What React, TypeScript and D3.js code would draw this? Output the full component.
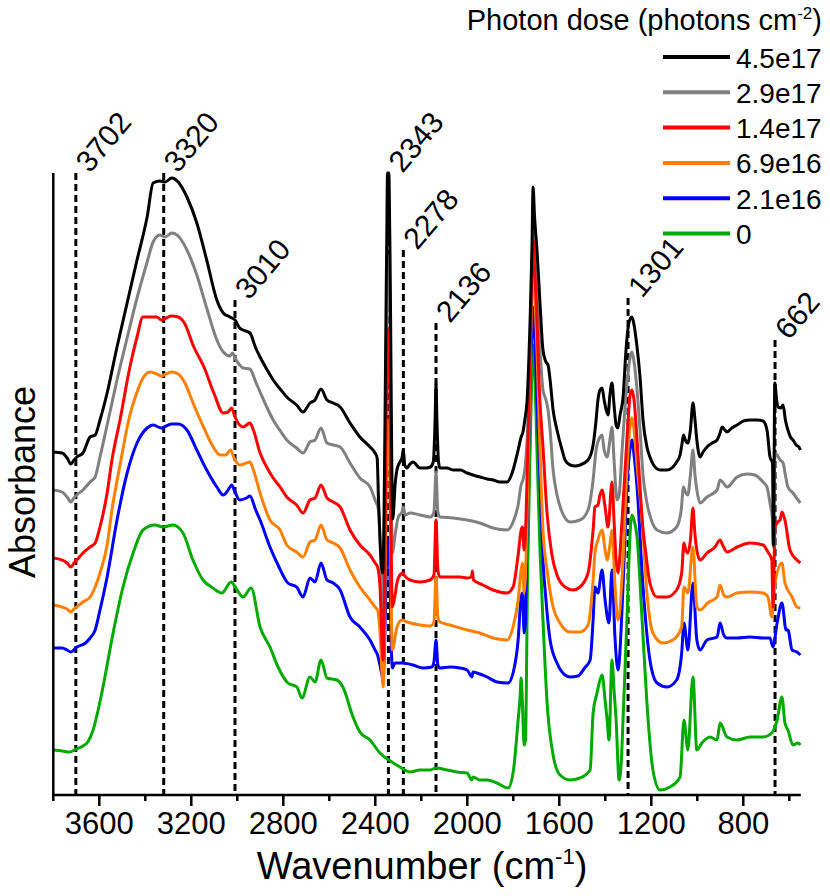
import React from 'react';
import * as d3 from 'd3';

// ---------- data ----------
const doseLabels = ['4.5e17', '2.9e17', '1.4e17', '6.9e16', '2.1e16', '0'];
const doseColors = ['#000000', '#808080', '#ff0000', '#ff8000', '#0000ff', '#00aa00'];

const xMajorTicks = [3600, 3200, 2800, 2400, 2000, 1600, 1200, 800];
const xMinorTicks = [3800, 3400, 3000, 2600, 2200, 1800, 1400, 1000, 600];

const markerWavenumbers = [3702, 3320, 3010, 2343, 2278, 2136, 1301, 662];
const markerTops = [6.22, 6.22, 4.95, 6.22, 5.45, 4.72, 4.97, 4.55];

type P = [number, number];

const black: P[] = [[3800,3.43],[3762,3.42],[3740,3.37],[3724,3.31],[3710,3.35],[3698,3.38],[3671,3.42],[3640,3.58],[3618,3.60],[3597,3.75],[3566,4.02],[3523,4.48],[3479,4.92],[3436,5.35],[3392,5.78],[3366,6.12],[3337,6.14],[3314,6.13],[3285,6.17],[3257,6.13],[3219,5.98],[3176,5.72],[3133,5.35],[3089,4.95],[3061,4.82],[3032,4.78],[3010,4.75],[2990,4.67],[2975,4.65],[2945,4.62],[2920,4.47],[2901,4.38],[2870,4.25],[2844,4.15],[2810,4.05],[2785,3.98],[2742,3.90],[2714,3.83],[2684,3.92],[2662,3.95],[2636,4.06],[2610,3.95],[2583,3.92],[2553,3.88],[2510,3.72],[2467,3.58],[2423,3.48],[2401,3.42],[2392,3.37],[2386,2.95],[2368,2.22],[2350,5.60],[2347,6.22],[2341,6.22],[2337,5.60],[2324,2.76],[2314,3.10],[2306,3.25],[2293,3.33],[2284,3.37],[2278,3.45],[2272,3.30],[2262,3.27],[2249,3.31],[2236,3.33],[2206,3.27],[2180,3.27],[2160,3.28],[2148,3.33],[2140,3.75],[2136,4.12],[2132,3.75],[2125,3.33],[2119,3.27],[2088,3.27],[2062,3.25],[2030,3.25],[2001,3.22],[1975,3.20],[1945,3.18],[1914,3.16],[1888,3.15],[1858,3.13],[1827,3.13],[1810,3.19],[1801,3.25],[1779,3.45],[1766,3.58],[1758,3.63],[1750,3.75],[1740,3.95],[1727,4.75],[1719,5.45],[1714,6.08],[1708,5.80],[1697,5.45],[1684,4.92],[1671,4.45],[1658,4.33],[1649,4.30],[1640,4.15],[1627,3.85],[1610,3.65],[1588,3.45],[1575,3.35],[1553,3.30],[1530,3.29],[1510,3.30],[1475,3.35],[1453,3.50],[1440,3.75],[1432,3.95],[1423,4.05],[1414,4.07],[1405,3.95],[1396,3.85],[1388,3.80],[1380,4.00],[1371,4.12],[1362,3.90],[1353,3.70],[1345,3.67],[1336,3.80],[1323,3.97],[1310,4.45],[1301,4.67],[1290,4.77],[1284,4.78],[1275,4.70],[1262,4.48],[1249,4.18],[1236,3.75],[1219,3.48],[1206,3.38],[1190,3.30],[1162,3.25],[1132,3.25],[1106,3.28],[1090,3.33],[1075,3.40],[1066,3.52],[1060,3.60],[1052,3.55],[1041,3.52],[1030,3.65],[1019,3.92],[1010,3.75],[1002,3.55],[988,3.38],[975,3.43],[958,3.48],[935,3.52],[914,3.55],[901,3.62],[892,3.68],[880,3.65],[871,3.63],[850,3.67],[827,3.70],[800,3.74],[771,3.75],[740,3.75],[714,3.74],[697,3.65],[684,3.38],[673,3.32],[669,2.50],[663,4.12],[655,3.95],[649,3.88],[637,3.87],[627,3.90],[617,3.75],[606,3.65],[595,3.58],[584,3.55],[570,3.50],[558,3.48],[552,3.45]];

const gray: P[] = [[3800,3.05],[3762,3.03],[3740,2.98],[3724,2.93],[3710,2.97],[3698,3.00],[3671,3.05],[3640,3.13],[3618,3.18],[3597,3.38],[3566,3.70],[3523,4.15],[3479,4.57],[3436,4.97],[3392,5.33],[3366,5.53],[3337,5.60],[3314,5.58],[3285,5.62],[3257,5.59],[3219,5.45],[3176,5.20],[3133,4.87],[3089,4.55],[3061,4.43],[3032,4.39],[3020,4.42],[3010,4.37],[2990,4.30],[2975,4.27],[2945,4.26],[2920,4.13],[2901,4.03],[2870,3.87],[2844,3.75],[2810,3.63],[2785,3.55],[2742,3.47],[2714,3.42],[2684,3.53],[2662,3.55],[2636,3.67],[2610,3.52],[2583,3.50],[2553,3.48],[2510,3.32],[2467,3.17],[2423,3.08],[2401,2.95],[2386,2.85],[2366,1.82],[2346,5.40],[2341,5.35],[2326,2.42],[2314,2.60],[2300,2.78],[2284,2.83],[2278,2.88],[2270,2.80],[2249,2.82],[2206,2.80],[2160,2.78],[2145,2.83],[2136,3.23],[2128,2.83],[2119,2.78],[2062,2.77],[2001,2.75],[1945,2.72],[1888,2.67],[1827,2.65],[1801,2.73],[1779,2.90],[1766,3.10],[1758,3.15],[1750,3.25],[1740,3.55],[1727,4.45],[1719,5.15],[1714,5.73],[1708,5.45],[1697,4.95],[1684,4.45],[1671,4.05],[1658,3.95],[1649,3.85],[1640,3.65],[1627,3.25],[1610,3.00],[1588,2.83],[1553,2.73],[1510,2.75],[1475,2.85],[1453,3.15],[1440,3.45],[1423,3.58],[1414,3.60],[1405,3.45],[1392,3.38],[1380,3.55],[1371,3.68],[1362,3.35],[1349,2.95],[1340,3.00],[1327,3.45],[1310,4.00],[1290,4.40],[1284,4.43],[1275,4.33],[1262,4.05],[1249,3.65],[1236,3.20],[1219,2.92],[1200,2.75],[1175,2.65],[1132,2.62],[1090,2.68],[1070,2.85],[1060,3.08],[1050,3.02],[1041,3.00],[1030,3.20],[1019,3.45],[1010,3.20],[1002,3.05],[988,2.92],[958,2.98],[914,3.05],[901,3.15],[890,3.13],[871,3.08],[827,3.18],[784,3.21],[750,3.20],[714,3.13],[697,3.08],[684,2.92],[673,2.75],[670,2.48],[662,3.42],[653,3.40],[640,3.35],[627,3.32],[617,3.20],[606,3.08],[584,3.02],[562,2.95],[552,2.92]];

const red: P[] = [[3800,2.37],[3762,2.35],[3740,2.32],[3724,2.28],[3710,2.32],[3698,2.35],[3671,2.42],[3640,2.48],[3618,2.52],[3597,2.68],[3566,3.02],[3545,3.35],[3510,3.75],[3467,4.28],[3436,4.58],[3410,4.78],[3380,4.78],[3350,4.78],[3330,4.75],[3310,4.77],[3285,4.79],[3257,4.78],[3230,4.72],[3189,4.48],[3145,4.28],[3102,4.02],[3061,3.82],[3040,3.83],[3025,3.87],[3010,3.78],[2990,3.70],[2975,3.68],[2945,3.72],[2930,3.65],[2901,3.42],[2870,3.27],[2844,3.17],[2814,3.08],[2785,2.98],[2742,2.90],[2714,2.82],[2684,2.95],[2662,2.97],[2636,3.10],[2610,2.97],[2583,2.93],[2553,2.88],[2510,2.65],[2467,2.50],[2423,2.40],[2401,2.32],[2390,2.28],[2380,2.10],[2366,1.35],[2346,4.65],[2341,4.60],[2326,1.88],[2314,2.00],[2306,2.12],[2293,2.20],[2280,2.22],[2275,2.20],[2249,2.15],[2206,2.13],[2162,2.15],[2145,2.20],[2136,2.75],[2128,2.25],[2119,2.18],[2075,2.18],[2032,2.18],[2001,2.17],[1982,2.18],[1978,2.24],[1973,2.15],[1932,2.10],[1888,2.05],[1827,2.02],[1801,2.08],[1779,2.40],[1766,2.65],[1760,2.68],[1753,2.45],[1745,2.75],[1735,3.65],[1725,4.65],[1719,5.25],[1714,5.55],[1708,5.30],[1697,4.75],[1688,4.12],[1671,3.48],[1653,2.81],[1632,2.40],[1610,2.20],[1575,2.08],[1540,2.05],[1510,2.08],[1475,2.22],[1453,2.65],[1445,2.88],[1432,2.90],[1423,3.00],[1414,3.05],[1401,2.88],[1388,2.68],[1371,3.13],[1362,2.75],[1353,2.35],[1345,2.22],[1327,2.75],[1306,3.56],[1290,4.03],[1284,4.05],[1275,3.95],[1262,3.55],[1249,3.08],[1236,2.65],[1227,2.48],[1206,2.12],[1175,1.98],[1132,1.98],[1090,2.05],[1068,2.22],[1058,2.52],[1050,2.45],[1041,2.42],[1030,2.55],[1019,2.87],[1010,2.60],[1002,2.45],[988,2.35],[958,2.42],[923,2.48],[901,2.55],[890,2.50],[871,2.43],[827,2.48],[771,2.52],[714,2.50],[693,2.43],[676,2.35],[671,1.88],[662,2.68],[650,2.73],[640,2.75],[632,2.83],[619,2.75],[597,2.45],[567,2.35],[552,2.32]];

const orange: P[] = [[3800,1.90],[3762,1.88],[3740,1.86],[3724,1.83],[3710,1.86],[3698,1.88],[3671,1.93],[3640,1.98],[3618,2.08],[3597,2.22],[3566,2.50],[3545,2.85],[3510,3.30],[3467,3.80],[3436,4.03],[3410,4.17],[3380,4.23],[3350,4.21],[3330,4.19],[3310,4.21],[3285,4.23],[3257,4.21],[3230,4.13],[3189,3.90],[3145,3.67],[3102,3.47],[3075,3.40],[3050,3.40],[3030,3.45],[3010,3.35],[2990,3.30],[2960,3.32],[2945,3.33],[2930,3.25],[2901,3.02],[2858,2.75],[2814,2.65],[2785,2.50],[2742,2.43],[2714,2.38],[2684,2.53],[2662,2.55],[2636,2.70],[2610,2.55],[2583,2.52],[2553,2.47],[2510,2.25],[2467,2.08],[2423,1.95],[2401,1.88],[2390,1.85],[2380,1.65],[2366,1.08],[2346,3.75],[2341,3.70],[2326,1.45],[2306,1.68],[2284,1.75],[2262,1.73],[2206,1.70],[2160,1.69],[2145,1.73],[2136,2.18],[2128,1.77],[2119,1.73],[2075,1.70],[2001,1.65],[1945,1.62],[1888,1.57],[1827,1.55],[1801,1.68],[1779,1.95],[1766,2.25],[1760,2.32],[1753,2.02],[1745,2.35],[1735,3.35],[1725,4.55],[1719,5.05],[1714,5.23],[1708,5.05],[1697,4.45],[1684,3.45],[1671,2.65],[1653,2.25],[1627,1.88],[1597,1.72],[1553,1.63],[1510,1.63],[1475,1.70],[1453,2.15],[1445,2.42],[1432,2.55],[1414,2.65],[1401,2.45],[1392,2.35],[1380,2.50],[1371,2.65],[1358,2.10],[1345,1.75],[1323,2.35],[1306,3.25],[1290,3.73],[1284,3.77],[1275,3.65],[1262,3.30],[1240,2.75],[1219,2.02],[1193,1.62],[1150,1.52],[1106,1.55],[1068,1.68],[1058,2.08],[1041,2.02],[1019,2.48],[1002,1.88],[988,1.85],[955,1.92],[914,1.98],[901,2.10],[885,2.00],[871,1.98],[827,2.02],[771,2.03],[714,2.02],[693,1.98],[676,1.78],[662,2.12],[632,2.32],[619,2.12],[588,1.98],[567,1.88],[552,1.87]];

const blue: P[] = [[3800,1.47],[3762,1.47],[3740,1.45],[3724,1.43],[3698,1.48],[3660,1.52],[3640,1.57],[3618,1.65],[3597,1.85],[3566,2.18],[3523,2.75],[3479,3.22],[3436,3.52],[3392,3.67],[3366,3.70],[3330,3.67],[3310,3.69],[3285,3.71],[3257,3.71],[3219,3.65],[3176,3.45],[3133,3.25],[3089,3.08],[3061,3.00],[3040,3.05],[3025,3.10],[3010,3.03],[2990,2.95],[2960,2.97],[2945,2.99],[2920,2.85],[2901,2.75],[2858,2.48],[2823,2.30],[2780,2.12],[2742,2.08],[2714,1.98],[2684,2.17],[2662,2.13],[2636,2.32],[2610,2.15],[2583,2.12],[2553,2.05],[2510,1.78],[2467,1.68],[2423,1.55],[2401,1.45],[2390,1.40],[2380,1.30],[2366,1.17],[2346,2.55],[2341,2.50],[2326,1.27],[2314,1.32],[2284,1.32],[2236,1.30],[2193,1.27],[2154,1.28],[2145,1.33],[2136,1.55],[2128,1.30],[2119,1.27],[2075,1.28],[2032,1.27],[2001,1.25],[1980,1.18],[1975,1.23],[1958,1.22],[1914,1.18],[1871,1.13],[1823,1.12],[1801,1.22],[1779,1.55],[1766,1.98],[1760,2.02],[1753,1.62],[1748,1.70],[1740,2.75],[1727,4.15],[1719,4.65],[1714,4.88],[1708,4.65],[1697,3.95],[1684,3.15],[1671,2.35],[1658,1.95],[1640,1.55],[1610,1.32],[1575,1.20],[1553,1.18],[1520,1.19],[1490,1.27],[1466,1.35],[1453,1.75],[1445,2.08],[1432,2.02],[1414,2.25],[1401,1.95],[1384,1.72],[1371,2.25],[1358,1.58],[1345,1.25],[1323,2.08],[1306,3.08],[1290,3.50],[1284,3.55],[1275,3.40],[1262,3.08],[1236,2.08],[1206,1.35],[1175,1.12],[1132,1.08],[1090,1.15],[1068,1.42],[1058,1.72],[1041,1.45],[1019,2.12],[1002,1.55],[988,1.45],[958,1.55],[914,1.58],[901,1.72],[885,1.60],[871,1.57],[827,1.57],[771,1.58],[714,1.57],[684,1.57],[671,1.48],[653,1.72],[632,1.92],[614,1.65],[606,1.65],[588,1.45],[567,1.43],[552,1.40]];

const green: P[] = [[3800,0.45],[3760,0.44],[3730,0.43],[3700,0.46],[3671,0.49],[3650,0.53],[3627,0.65],[3605,0.85],[3584,1.08],[3540,1.62],[3497,2.08],[3453,2.42],[3410,2.65],[3358,2.70],[3323,2.68],[3280,2.70],[3236,2.62],[3193,2.35],[3149,2.15],[3106,2.07],[3067,2.02],[3027,2.13],[3001,2.05],[2975,1.98],[2940,2.07],[2901,1.68],[2858,1.48],[2823,1.28],[2780,1.12],[2741,1.08],[2719,0.97],[2684,1.18],[2662,1.13],[2636,1.35],[2610,1.17],[2567,1.15],[2541,1.08],[2497,0.78],[2467,0.63],[2423,0.55],[2380,0.42],[2328,0.33],[2293,0.28],[2249,0.23],[2206,0.25],[2162,0.25],[2136,0.27],[2088,0.25],[2045,0.23],[2001,0.22],[1980,0.15],[1975,0.18],[1945,0.15],[1914,0.15],[1871,0.12],[1823,0.07],[1801,0.22],[1779,0.75],[1770,1.00],[1766,1.17],[1760,0.90],[1753,0.50],[1747,0.55],[1738,2.20],[1727,3.45],[1719,4.25],[1714,4.50],[1708,4.30],[1697,3.45],[1684,2.45],[1671,1.75],[1653,0.92],[1627,0.40],[1597,0.20],[1553,0.15],[1510,0.17],[1466,0.25],[1453,0.82],[1436,1.02],[1423,1.15],[1414,1.20],[1401,0.95],[1392,0.75],[1384,0.55],[1371,1.35],[1362,1.05],[1353,0.75],[1340,0.15],[1330,0.35],[1323,0.75],[1306,1.75],[1290,2.70],[1284,2.80],[1275,2.75],[1262,2.58],[1240,1.75],[1219,0.92],[1193,0.25],[1162,0.05],[1119,0.08],[1075,0.18],[1058,0.75],[1041,0.45],[1019,1.18],[1002,0.45],[980,0.52],[945,0.58],[914,0.55],[901,0.72],[871,0.58],[827,0.55],[771,0.58],[714,0.58],[676,0.62],[653,0.75],[632,0.98],[619,0.72],[606,0.65],[584,0.50],[562,0.52],[552,0.50]];

const seriesList: P[][] = [black, gray, red, orange, blue, green];
// drawing order (back to front): green, blue, orange, gray, red, black
const drawOrder = [5, 4, 3, 1, 2, 0];

// ---------- layout ----------
const W = 830;
const H = 896;
const X0 = 53.3;
const X1 = 800.8;
const Y0 = 795;
const Y1 = 173;
const FONT = '"Liberation Sans", Arial, Helvetica, sans-serif';

export default function App() {
  const x = d3.scaleLinear().domain([3800, 550]).range([X0, X1]);
  const y = d3.scaleLinear().domain([0, 6.22]).range([Y0, Y1]);
  const line = d3
    .line<P>()
    .x((d) => x(d[0]))
    .y((d) => y(d[1]))
    .curve(d3.curveMonotoneX);

  return (
    <svg
      width={W}
      height={H}
      viewBox={`0 0 ${W} ${H}`}
      style={{ position: 'absolute', left: 0, top: 0, background: '#fff' }}
      fontFamily={FONT}
    >
      <rect x={0} y={0} width={W} height={H} fill="#fff" />

      {/* marker dashed lines */}
      {markerWavenumbers.map((wn, i) => (
        <line
          key={'m' + wn}
          x1={x(wn)}
          x2={x(wn)}
          y1={y(markerTops[i])}
          y2={Y0}
          stroke="#000"
          strokeWidth={3}
          strokeDasharray="7,4"
        />
      ))}

      {/* spectra */}
      {drawOrder.map((si) => (
        <path
          key={'s' + si}
          d={line(seriesList[si]) || ''}
          fill="none"
          stroke={doseColors[si]}
          strokeWidth={3}
          strokeLinejoin="round"
        />
      ))}

      {/* marker labels */}
      {markerWavenumbers.map((wn, i) => {
        const ax = x(wn) + 14;
        const ay = y(markerTops[i]) + 1;
        return (
          <text
            key={'t' + wn}
            x={ax}
            y={ay}
            fontSize={30}
            transform={`rotate(-50 ${ax} ${ay})`}
            fill="#000"
          >
            {String(wn)}
          </text>
        );
      })}

      {/* axes */}
      <line x1={X0} x2={X0} y1={Y1} y2={Y0} stroke="#000" strokeWidth={2.5} />
      <line x1={X0 - 1.2} x2={X1} y1={Y0} y2={Y0} stroke="#000" strokeWidth={2.5} />
      {xMajorTicks.map((t) => (
        <g key={'M' + t}>
          <line x1={x(t)} x2={x(t)} y1={Y0} y2={Y0 + 11} stroke="#000" strokeWidth={2.5} />
          <text x={x(t)} y={834} fontSize={31} textAnchor="middle" fill="#000">
            {String(t)}
          </text>
        </g>
      ))}
      {xMinorTicks.map((t) => (
        <line key={'m' + t} x1={x(t)} x2={x(t)} y1={Y0} y2={Y0 + 6} stroke="#000" strokeWidth={2.5} />
      ))}

      {/* axis titles */}
      <text x={422} y={879} fontSize={38} textAnchor="middle" fill="#000">
        Wavenumber (cm
        <tspan dy={-15} fontSize={22}>-1</tspan>
        <tspan dy={15}>)</tspan>
      </text>
      <text
        x={0}
        y={0}
        fontSize={36}
        textAnchor="middle"
        fill="#000"
        transform={`translate(35, 482) rotate(-90)`}
      >
        Absorbance
      </text>

      {/* legend */}
      <text x={822} y={30} fontSize={29} textAnchor="end" fill="#000">
        Photon dose (photons cm
        <tspan dy={-11} fontSize={17}>-2</tspan>
        <tspan dy={11}>)</tspan>
      </text>
      {doseLabels.map((lab, i) => {
        const ly = 57 + i * 35.3;
        return (
          <g key={'L' + lab}>
            <line x1={663} x2={730} y1={ly} y2={ly} stroke={doseColors[i]} strokeWidth={4} />
            <text x={736} y={ly + 10.5} fontSize={28} fill="#000">
              {lab}
            </text>
          </g>
        );
      })}
    </svg>
  );
}
